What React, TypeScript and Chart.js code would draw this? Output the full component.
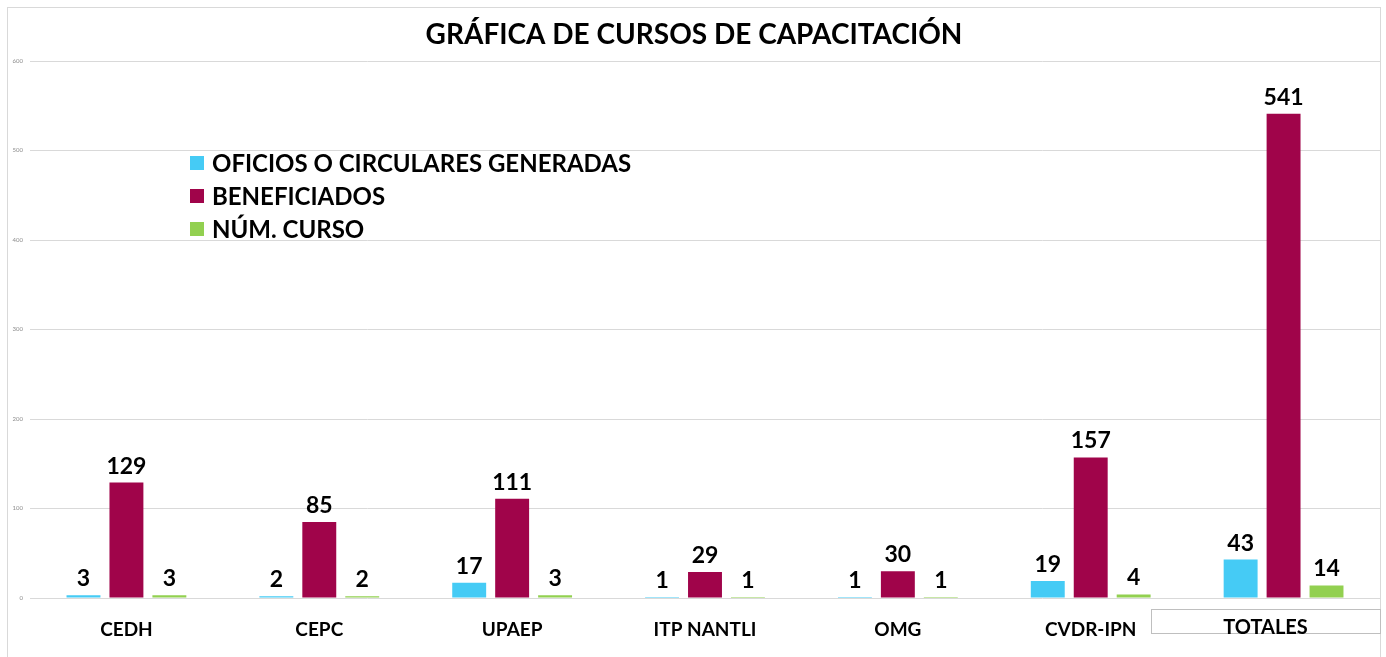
import React, { useEffect, useRef } from 'react';
import { Chart, registerables } from 'chart.js';

Chart.register(...registerables);

const categories = ['CEDH', 'CEPC', 'UPAEP', 'ITP NANTLI', 'OMG', 'CVDR-IPN', 'TOTALES'];
const oficios = [3, 2, 17, 1, 1, 19, 43];
const beneficiados = [129, 85, 111, 29, 30, 157, 541];
const cursos = [3, 2, 3, 1, 1, 4, 14];
const seriesNames = ['OFICIOS O CIRCULARES GENERADAS', 'BENEFICIADOS', 'NÚM. CURSO'];
const seriesColors = ['#45CBF5', '#A0044A', '#92D050'];
const titleText = 'GRÁFICA DE CURSOS DE CAPACITACIÓN';
const FONT = 'Lato, Carlito, "Open Sans", sans-serif';

const decorPlugin = {
  id: 'decor',
  beforeDraw(chart: any) {
    const { ctx, width, height } = chart;
    ctx.save();
    ctx.fillStyle = '#ffffff';
    ctx.fillRect(0, 0, width, height);
    ctx.strokeStyle = '#d9d9d9';
    ctx.lineWidth = 1;
    ctx.strokeRect(7.5, 7.5, 1373, height + 20);
    ctx.restore();
  },
  afterDatasetsDraw(chart: any) {
    const { ctx } = chart;
    ctx.save();
    ctx.fillStyle = '#000000';
    ctx.font = `bold 23px ${FONT}`;
    ctx.textAlign = 'center';
    ctx.textBaseline = 'alphabetic';
    chart.data.datasets.forEach((ds: any, i: number) => {
      const meta = chart.getDatasetMeta(i);
      meta.data.forEach((bar: any, j: number) => {
        ctx.fillText(String(ds.data[j]), bar.x, bar.y - 9);
      });
    });
    ctx.restore();
  },
  afterDraw(chart: any) {
    const { ctx } = chart;
    ctx.save();
    // title
    ctx.fillStyle = '#000000';
    ctx.font = `bold 28px ${FONT}`;
    ctx.textAlign = 'center';
    ctx.textBaseline = 'alphabetic';
    ctx.fillText(titleText, 694, 44);
    // legend
    ctx.font = `bold 24px ${FONT}`;
    ctx.textAlign = 'left';
    seriesNames.forEach((name, i) => {
      const cy = 163 + i * 33;
      ctx.fillStyle = seriesColors[i];
      ctx.fillRect(190, cy - 7, 14, 14);
      ctx.fillStyle = '#000000';
      ctx.fillText(name, 212, cy + 9);
    });
    // TOTALES box
    const xs = chart.scales.x;
    const cx = xs.getPixelForValue(categories.length - 1) - 18;
    ctx.strokeStyle = '#bfbfbf';
    ctx.lineWidth = 1;
    ctx.strokeRect(Math.round(cx - 115) + 0.5, 609.5, 229, 24);
    ctx.fillStyle = '#000000';
    ctx.font = `bold 20px ${FONT}`;
    ctx.textAlign = 'center';
    ctx.fillText(categories[categories.length - 1], cx, 634);
    ctx.restore();
  },
};

export default function App() {
  const ref = useRef<HTMLCanvasElement | null>(null);
  useEffect(() => {
    document.body.style.margin = '0';
    if (!ref.current) return;
    const chart = new Chart(ref.current, {
      type: 'bar',
      data: {
        labels: categories,
        datasets: [
          { label: seriesNames[0], data: oficios, backgroundColor: seriesColors[0] },
          { label: seriesNames[1], data: beneficiados, backgroundColor: seriesColors[1] },
          { label: seriesNames[2], data: cursos, backgroundColor: seriesColors[2] },
        ],
      },
      options: {
        animation: false,
        responsive: false,
        maintainAspectRatio: false,
        layout: { padding: { top: 61, left: 8, right: 6, bottom: 0 } },
        datasets: { bar: { categoryPercentage: 0.668, barPercentage: 0.79 } },
        plugins: {
          legend: { display: false },
          title: { display: false },
          tooltip: { enabled: false },
        },
        scales: {
          x: {
            grid: { display: false, drawTicks: false },
            border: { display: false },
            afterFit(scale: any) {
              scale.height = 59;
            },
            ticks: {
              padding: 20,
              color: '#000000',
              font: { family: FONT, size: 19, weight: 'bold' },
              maxRotation: 0,
              autoSkip: false,
              callback: (_v: any, i: number) => (i === categories.length - 1 ? '' : categories[i]),
            },
          },
          y: {
            min: 0,
            max: 600,
            grid: { color: '#d9d9d9', drawTicks: false, lineWidth: 1 },
            border: { display: false },
            afterFit(scale: any) {
              scale.width = 22;
            },
            ticks: {
              stepSize: 100,
              padding: 7,
              color: '#8c8c8c',
              font: { family: FONT, size: 6 },
            },
          },
        },
      },
      plugins: [decorPlugin],
    });
    return () => chart.destroy();
  }, []);
  return (
    <div style={{ width: 1386, height: 657 }}>
      <canvas ref={ref} width={1386} height={657} style={{ display: 'block' }} />
    </div>
  );
}
